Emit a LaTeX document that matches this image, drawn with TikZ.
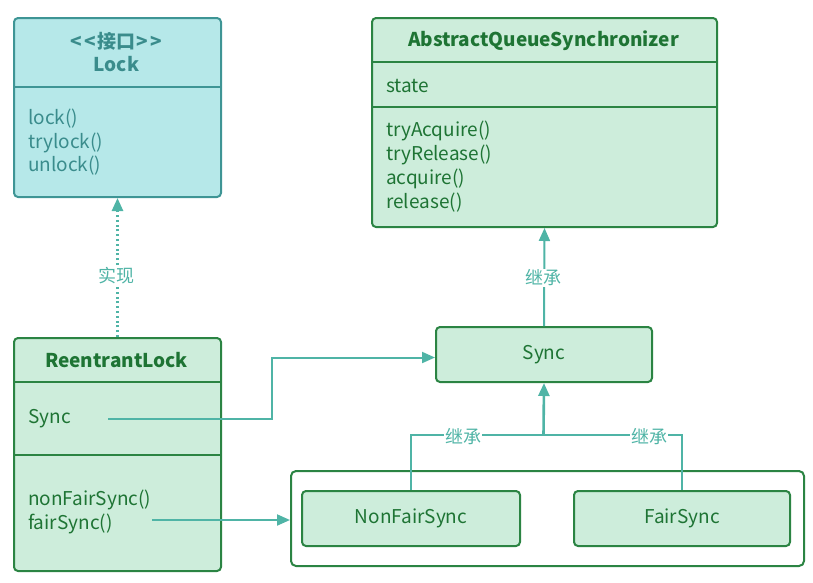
\documentclass[tikz,border=0pt]{standalone}
\usepackage{fontspec}
\setmainfont{Noto Sans CJK SC}
\usetikzlibrary{arrows.meta}
\definecolor{gborder}{HTML}{2B8443}
\definecolor{gfill}{HTML}{CDEDDB}
\definecolor{gtext}{HTML}{1E7434}
\definecolor{cborder}{HTML}{3E9595}
\definecolor{cfill}{HTML}{B6E8E9}
\definecolor{ctext}{HTML}{3A8C8C}
\definecolor{link}{HTML}{4FB4A6}
\begin{document}
\begin{tikzpicture}[x=1pt,y=-1pt,
  gbox/.style={draw=gborder,fill=gfill,line width=2pt,rounded corners=4pt,inner sep=0pt,anchor=north west},
  cbox/.style={draw=cborder,fill=cfill,line width=2pt,rounded corners=4pt,inner sep=0pt,anchor=north west},
  wbox/.style={draw=gborder,fill=white,line width=2pt,rounded corners=5pt,inner sep=0pt,anchor=north west},
  gdiv/.style={draw=gborder,line width=2pt},
  cdiv/.style={draw=cborder,line width=2pt},
  gtxt/.style={text=gtext,inner sep=0pt,font=\fontsize{19}{23}\selectfont},
  gtitle/.style={gtxt,font=\fontsize{19}{23}\selectfont\bfseries},
  ctxt/.style={text=ctext,inner sep=0pt,font=\fontsize{19}{23}\selectfont},
  ctitle/.style={ctxt,font=\fontsize{19}{23}\selectfont\bfseries},
  conn/.style={draw=link,line width=2pt},
  arr/.style={conn,-{Triangle[length=13pt,width=11pt]}},
  lbl/.style={text=link,fill=white,inner sep=1pt,font=\fontsize{18}{21}\selectfont}
]
\useasboundingbox (0,0) rectangle (813,582);

% Lock interface
\node[cbox,minimum width=207pt,minimum height=179pt] (lock) at (13,17) {};
\draw[cdiv] (13,87) -- (220,87);
\node[ctitle] (lockst) at (116.5,41) {<\kern2.5pt<\kern1pt接口\kern1pt>\kern2.5pt>};
\node[ctitle] (lockname) at (116.5,64) {Lock};
\node[ctxt,anchor=west] (m1) at (28,119) {lock()};
\node[ctxt,anchor=west] (m2) at (28,143) {trylock()};
\node[ctxt,anchor=west] (m3) at (28,166) {unlock()};

% AQS
\node[gbox,minimum width=345pt,minimum height=209pt] (aqs) at (371,17) {};
\draw[gdiv] (371,62) -- (716,62);
\draw[gdiv] (371,107) -- (716,107);
\node[gtitle] (aqsname) at (543.5,41) {AbstractQueueSynchronizer};
\node[gtxt,anchor=west] (st) at (386,86) {state};
\node[gtxt,anchor=west] (a1) at (386,131) {tryAcquire()};
\node[gtxt,anchor=west] (a2) at (386,155) {tryRelease()};
\node[gtxt,anchor=west] (a3) at (386,179) {acquire()};
\node[gtxt,anchor=west] (a4) at (386,203) {release()};

% ReentrantLock
\node[gbox,minimum width=207pt,minimum height=233pt] (rl) at (13,337) {};
\draw[gdiv] (13,382) -- (220,382);
\draw[gdiv] (13,455) -- (220,455);
\node[gtitle] (rlname) at (116.5,360) {ReentrantLock};
\node[gtxt,anchor=west] (r1) at (28,419) {Sync};
\node[gtxt,anchor=west] (r2) at (28,500) {nonFairSync()};
\node[gtxt,anchor=west] (r3) at (28,524) {fairSync()};

% Sync
\node[gbox,minimum width=216pt,minimum height=55pt] (sync) at (435,326) {};
\node[gtxt] (syncname) at (sync.center) {Sync};

% container
\node[wbox,minimum width=513pt,minimum height=95pt] (cont) at (290,470) {};
\node[gbox,minimum width=218pt,minimum height=55pt] (nf) at (301,490) {};
\node[gtxt] (nfname) at (nf.center) {NonFairSync};
\node[gbox,minimum width=216pt,minimum height=55pt] (fair) at (573,490) {};
\node[gtxt] (fairname) at (fair.center) {FairSync};

% connectors
\draw[arr,line width=2.6pt,dash pattern=on 2pt off 2.8pt] (rl.north) -- (lock.south);
\node[lbl] (impl) at (116.5,276) {实现};

\draw[arr] (sync.north) -- (aqs.south);
\node[lbl] (inh0) at (543.5,278) {继承};

\coordinate (sf) at (108,419);
\coordinate (bx) at (272,0);
\draw[arr] (sf) -- (sf -| bx) |- ([yshift=-3pt]sync.west);

\coordinate (fs) at (152,520);
\draw[arr] (fs) -- (fs -| cont.west);

\coordinate (j) at (543.5,435);
\draw[conn] (nf.north) |- (j);
\draw[conn] (fair.north) |- (j);
\draw[arr,line width=2.6pt] (j) -- (sync.south);
\node[lbl] (inh1) at (463,437) {继承};
\node[lbl] (inh2) at (649,437) {继承};
\end{tikzpicture}
\end{document}
